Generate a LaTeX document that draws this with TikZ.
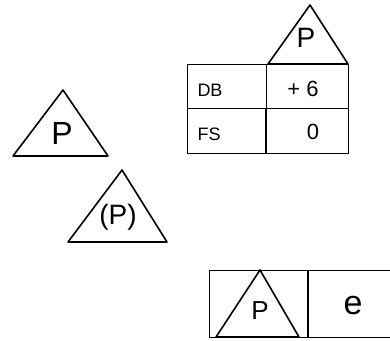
\documentclass[tikz,border=0pt]{standalone}
\usepackage{fontspec}
\setmainfont{Liberation Sans}
\usetikzlibrary{positioning,calc}

\begin{document}
\begin{tikzpicture}[x=1pt, y=-1pt,
  tri/.style={draw, line width=1.6pt, line join=round},
  cell/.style={draw, line width=1pt},
  sep/.style={draw, line width=2pt},
  txt/.style={inner sep=0pt, font=\fontsize{#1}{#1}\selectfont}
]
\useasboundingbox (0,0) rectangle (390,340);
% triangle on top of the table
\draw[tri] (268,64) -- (310,5) -- (348,64) -- cycle;
\node[txt=28] (ptop) at (306,38) {P};
% table
\draw[cell] (187,64) rectangle (348,153);
\draw[cell] (187,108) -- (348,108);
\draw[cell] (266,64) -- (266,108);
\draw[sep] (266,108) -- (266,153);
\node[txt=18] (dbl) at (210,90) {DB};
\node[txt=22] (dbv) at (303,89) {+ 6};
\node[txt=18] (fsl) at (209,134) {FS};
\node[txt=22] (fsv) at (313,132) {0};
% free triangles
\draw[tri] (13,156) -- (63,90) -- (108,156) -- cycle;
\node[txt=32] (pleft) at (62,133) {P};
\draw[tri] (68,242) -- (122,170) -- (167,242) -- cycle;
\node[txt=28] (pmid) at (118,217) {(P)};
% bottom box
\draw[cell] (390,270) -- (209,270) -- (209,337) -- (390,337);
\draw[sep] (308,270) -- (308,337);
\draw[tri] (216,337) -- (260,270) -- (299,337) -- cycle;
\node[txt=26] (pbox) at (260,311) {P};
\node[txt=34] (ebox) at (353,306) {e};
\end{tikzpicture}
\end{document}
